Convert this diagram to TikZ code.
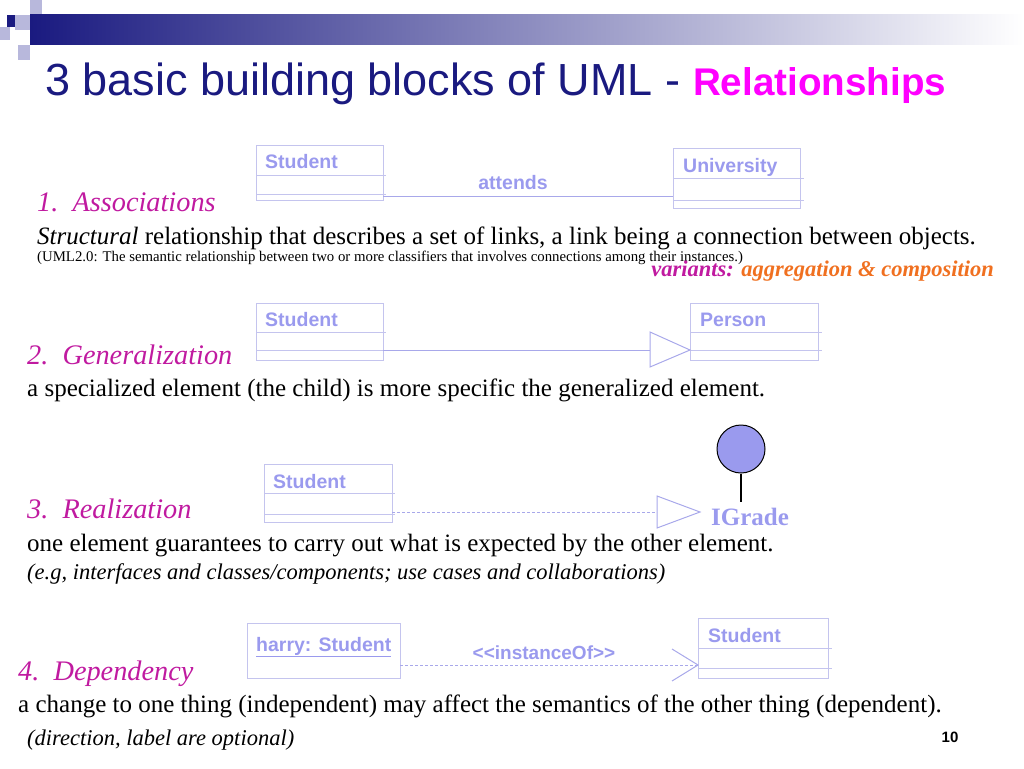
\documentclass[tikz,border=0pt]{standalone}
\usepackage{fontspec}
\setmainfont{Liberation Serif}
\newfontfamily\sans{Liberation Sans}
\begin{document}
\begin{tikzpicture}[x=1pt,y=-1pt,
  lav/.style={draw=lbox,line width=1pt},
  ctext/.style={text=lavtxt,font=\sans\bfseries\fontsize{19.5}{19.5}\selectfont,anchor=base west,inner sep=0},
  head/.style={text=mag,font=\itshape\fontsize{28.3}{28.3}\selectfont,anchor=base west,inner sep=0},
  body/.style={font=\fontsize{25}{25}\selectfont,anchor=base west,inner sep=0},
  conn/.style={draw=lline,line width=1pt}]
\definecolor{lbox}{HTML}{C4C4EE}
\definecolor{lline}{HTML}{A8A8EA}
\definecolor{lavtxt}{HTML}{9A9AEE}
\definecolor{mag}{HTML}{C01AA0}
\definecolor{pink}{HTML}{FF00FF}
\definecolor{orng}{HTML}{F07020}
\definecolor{navy}{HTML}{1A1A80}
\definecolor{sq}{HTML}{B8B8DC}
\useasboundingbox (0,0) rectangle (1024,768);
% header
\shade[left color=navy,right color=white] (30,15) rectangle (1024,45);
\fill[sq] (30,0) rectangle (42,14);
\fill[sq] (15,15) rectangle (30,30);
\fill[sq] (0,27) rectangle (10,40);
\fill[sq] (18,45) rectangle (30,60);
\fill[navy] (7,15) rectangle (15,27);
\node[anchor=base west,inner sep=0,font=\sans\fontsize{45}{45}\selectfont,text=navy] (title) at (45,95) {3 basic building blocks of UML - \textcolor{pink}{\bfseries\fontsize{38.6}{38.6}\selectfont Relationships}};
% section 1
\draw[lav] (256,145) rectangle (383,200);
\draw[lav] (256,175) -- (386,175) (256,194) -- (386,194);
\node[ctext] (s1) at (265,168) {Student};
\draw[lav] (673,148) rectangle (800,208);
\draw[lav] (673,178) -- (804,178) (673,200) -- (804,200);
\node[ctext] (u1) at (683,172) {University};
\coordinate (a1) at (383,196); \coordinate (b1) at (673,196);
\draw[conn] (a1) -- (b1);
\node[ctext,anchor=base] (att) at (513,189) {attends};
\node[head] (h1) at (37,211) {1.\ \ Associations};
\node[body] (t1) at (37,244) {\textit{Structural} relationship that describes a set of links, a link being a connection between objects.};
\node[anchor=base west,inner sep=0,font=\fontsize{14.8}{14.8}\selectfont] (t1b) at (37,261) {(UML2.0: The semantic relationship between two or more classifiers that involves connections among their instances.)};
\node[anchor=base east,inner sep=0,font=\bfseries\itshape\fontsize{22.5}{22.5}\selectfont] (var) at (994,276) {\textcolor{mag}{variants:} \textcolor{orng}{aggregation \& composition}};
% section 2
\draw[lav] (256,303) rectangle (383,360);
\draw[lav] (256,332) -- (386,332) (256,350) -- (386,350);
\node[ctext] (s2) at (265,326) {Student};
\draw[lav] (690,303) rectangle (818,360);
\draw[lav] (690,332) -- (822,332) (690,350) -- (822,350);
\node[ctext] (p2) at (700,326) {Person};
\coordinate (a2) at (383,350); \coordinate (b2) at (650,350);
\draw[conn] (a2) -- (b2);
\draw[conn] (650,332) -- (690,350) -- (650,367) -- cycle;
\node[head] (h2) at (27,364) {2.\ \ Generalization};
\node[body] (t2) at (27,396) {a specialized element (the child) is more specific the generalized element.};
% section 3
\draw[lav] (264,464) rectangle (392,522);
\draw[lav] (264,493) -- (395,493) (264,514) -- (395,514);
\node[ctext] (s3) at (273,488) {Student};
\coordinate (a3) at (392,512); \coordinate (b3) at (657,512);
\draw[conn,dashed,dash pattern=on 3pt off 2pt] (a3) -- (b3);
\draw[conn] (657,496) -- (700,512) -- (657,528) -- cycle;
\node[circle,draw=black,line width=1pt,fill=lavtxt,minimum size=48pt,inner sep=0] (ig) at (741,449) {};
\coordinate (igb) at (741,502);
\draw[line width=1.2pt] (ig.south) -- (igb);
\node[anchor=base west,inner sep=0,text=lavtxt,font=\bfseries\fontsize{25}{25}\selectfont] (igl) at (711,525) {IGrade};
\node[head] (h3) at (27,518) {3.\ \ Realization};
\node[body] (t3) at (27,551) {one element guarantees to carry out what is expected by the other element.};
\node[anchor=base west,inner sep=0,font=\itshape\fontsize{22.5}{22.5}\selectfont] (t3b) at (27,579) {(e.g, interfaces and classes/components; use cases and collaborations)};
% section 4
\draw[lav] (247,623) rectangle (400,678);
\node[ctext] (hs) at (256,651) {\underline{harry: Student}};
\draw[lav] (698,618) rectangle (828,678);
\draw[lav] (698,648) -- (832,648) (698,668) -- (832,668);
\node[ctext] (s4) at (708,642) {Student};
\coordinate (a4) at (400,665); \coordinate (b4) at (698,665);
\draw[conn,dashed,dash pattern=on 3pt off 2pt] (a4) -- (b4);
\draw[conn] (672,649) -- (b4) -- (672,681);
\node[ctext,anchor=base,font=\sans\bfseries\fontsize{19}{19}\selectfont] (io) at (544,659) {<<instanceOf>>};
\node[head] (h4) at (18,680) {4.\ \ Dependency};
\node[body] (t4) at (18,712) {a change to one thing (independent) may affect the semantics of the other thing (dependent).};
\node[anchor=base west,inner sep=0,font=\itshape\fontsize{22.5}{22.5}\selectfont] (t4b) at (27,745) {(direction, label are optional)};
\node[anchor=base,inner sep=0,font=\sans\bfseries\fontsize{15}{15}\selectfont] (pg) at (950,742) {10};
\end{tikzpicture}
\end{document}
